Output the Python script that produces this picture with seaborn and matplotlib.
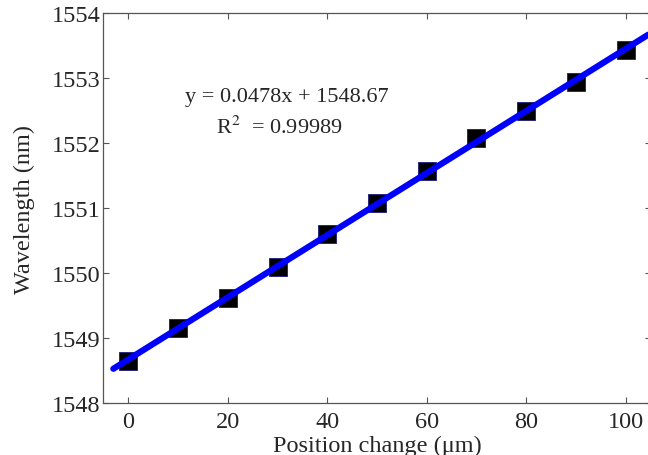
import numpy as np
import pandas as pd
import matplotlib
matplotlib.use("Agg")
import matplotlib.pyplot as plt
import seaborn as sns

position = [0, 10, 20, 30, 40, 50, 60, 70, 80, 90, 100]
wavelength = [1548.64, 1549.16, 1549.61, 1550.1, 1550.6, 1551.07,
              1551.57, 1552.07, 1552.5, 1552.94, 1553.43]

# linear fit as given in the annotation
fit_slope = 0.0478
fit_intercept = 1548.67
fit_range = [-3, 104.5]

df = pd.DataFrame({'position': position, 'wavelength': wavelength})
fit_df = pd.DataFrame({'position': fit_range})
fit_df['wavelength'] = fit_intercept + fit_slope * fit_df['position']

sns.set_style('ticks')
plt.rcParams['font.family'] = ['Liberation Serif', 'DejaVu Serif']
plt.rcParams['mathtext.fontset'] = 'stix'

fig = plt.figure(figsize=(6.48, 4.56), dpi=100)
ax = fig.add_axes([103.4 / 648, 1 - 404 / 456, 547.2 / 648, 390 / 456])

sns.scatterplot(data=df, x='position', y='wavelength', marker='s', s=160,
                color='black', edgecolor='#1a1a80', linewidth=0.6, ax=ax, zorder=2)
sns.lineplot(data=fit_df, x='position', y='wavelength', color='#0000ff',
             linewidth=4.5, ax=ax, zorder=3, solid_capstyle='round')

ax.set_xlim(-5, 105)
ax.set_ylim(1548, 1554)
ax.set_xticks([0, 20, 40, 60, 80, 100])
ax.set_yticks([1548, 1549, 1550, 1551, 1552, 1553, 1554])
ax.tick_params(direction='in', length=4, width=0.8, top=True, right=True,
               labelsize=17.5, color='#555555')
ax.tick_params(axis='x', pad=6)
ax.tick_params(axis='y', pad=2)
for s in ax.spines.values():
    s.set_color('#555555')
    s.set_linewidth(0.9)

ax.set_xlabel('Position change (\u03bcm)', fontsize=17.5, labelpad=2)
ax.set_ylabel('Wavelength (nm)', fontsize=17.5, labelpad=12)

ax.text(0.15, 0.775, 'y = 0.0478x + 1548.67', transform=ax.transAxes, fontsize=16)
ax.text(0.205, 0.693, 'R$^2$  = 0.99989', transform=ax.transAxes, fontsize=16)

fig.savefig('out.png', dpi=100)
